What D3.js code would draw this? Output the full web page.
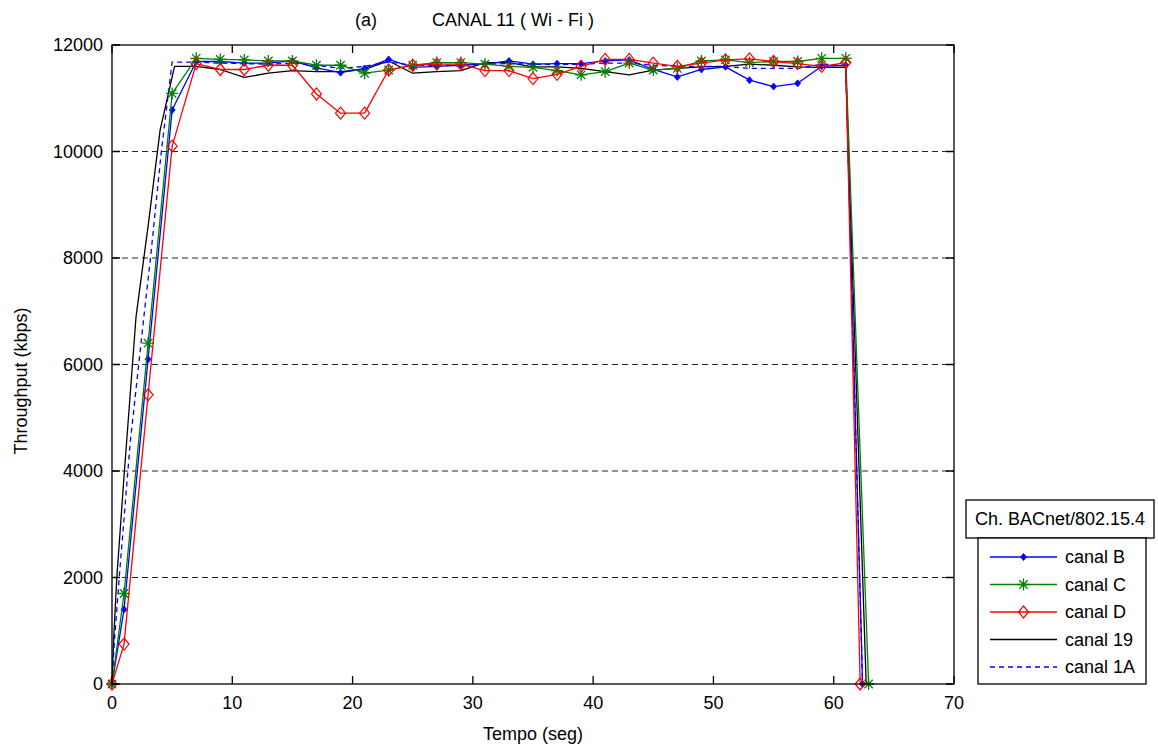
<!DOCTYPE html>
<html>
<head>
<meta charset="utf-8">
<script src="https://cdn.jsdelivr.net/npm/d3@7"></script>
<style>
  html, body { margin: 0; padding: 0; background: #fff; }
  svg { display: block; }
  text { font-family: "Liberation Sans", Arial, sans-serif; fill: #000; }
</style>
</head>
<body>
<svg id="chart" width="1158" height="747"></svg>
<script>
// Sample times (s) of the marked series
const tempo = [0, 1, 3, 5, 7, 9, 11, 13, 15, 17, 19, 21, 23, 25, 27, 29, 31,
               33, 35, 37, 39, 41, 43, 45, 47, 49, 51, 53, 55, 57, 59, 61];

// Throughput (kbps) per BACnet/802.15.4 channel
const canalB = [0, 1400, 6100, 10780, 11690, 11690, 11660, 11660, 11700, 11570, 11480,
                11560, 11730, 11580, 11600, 11620, 11640, 11700, 11640, 11650, 11650,
                11700, 11720, 11540, 11400, 11540, 11590, 11340, 11220, 11280, 11600, 11620];
const canalC = [0, 1700, 6400, 11090, 11750, 11730, 11720, 11700, 11700, 11620, 11620,
                11470, 11530, 11620, 11670, 11670, 11640, 11600, 11580, 11520, 11440,
                11500, 11660, 11530, 11560, 11700, 11720, 11670, 11690, 11690, 11750, 11750];
const canalD = [0, 750, 5430, 10100, 11650, 11540, 11540, 11620, 11620, 11080, 10720,
                10720, 11530, 11620, 11640, 11640, 11520, 11520, 11370, 11450, 11600,
                11730, 11730, 11660, 11600, 11660, 11720, 11740, 11690, 11650, 11600, 11670];

// Time at which each marked series returns to zero
const fimB = 62.4, fimC = 62.9, fimD = 62.2;

// Unmarked series (own time base)
const tempo19 = [0, 0.15, 0.4, 1, 2, 3, 4, 5.2, 7, 9, 11, 13, 15, 17, 19, 21, 23, 25, 27,
                 29, 31, 33, 35, 37, 39, 41, 43, 45, 47, 49, 51, 53, 55, 57, 59, 61, 62.7];
const canal19 = [0, 900, 2000, 3900, 6900, 8600, 10400, 11600, 11600, 11540, 11390, 11470,
                 11520, 11500, 11500, 11540, 11700, 11470, 11500, 11520, 11670, 11670, 11590,
                 11590, 11560, 11500, 11440, 11530, 11560, 11590, 11600, 11640, 11620, 11590,
                 11580, 11580, 0];
const tempo1A = [0, 0.2, 0.6, 1.5, 2.7, 3.2, 4.1, 5, 7, 9, 11, 13, 15, 17, 19, 21, 23, 25,
                 27, 29, 31, 33, 35, 37, 39, 41, 43, 45, 47, 49, 51, 53, 55, 57, 59, 61, 62.4];
const canal1A = [0, 800, 2000, 4500, 7000, 8000, 10000, 11680, 11680, 11660, 11650, 11640,
                 11660, 11620, 11560, 11600, 11680, 11620, 11620, 11620, 11640, 11650, 11640,
                 11630, 11640, 11660, 11660, 11620, 11600, 11600, 11600, 11560, 11560, 11560,
                 11640, 11620, 0];

// Axis ticks
const xTicks = [0, 10, 20, 30, 40, 50, 60, 70];
const yTicks = [0, 2000, 4000, 6000, 8000, 10000, 12000];
const gridValues = [2000, 4000, 6000, 8000, 10000];

const legendTitle = "Ch. BACnet/802.15.4";
const titleTag = "(a)";
const titleText = "CANAL 11 ( Wi - Fi )";

// ---------------------------------------------------------------
const svg = d3.select("#chart");
const plot = { left: 112, right: 954, top: 45, bottom: 684 };
const FONT = 18;

const x = d3.scaleLinear().domain([0, 70]).range([plot.left, plot.right]);
const y = d3.scaleLinear().domain([0, 12000]).range([plot.bottom, plot.top]);

svg.append("rect").attr("width", 1158).attr("height", 747).attr("fill", "#fff");

// Dashed horizontal grid
svg.append("g").selectAll("line").data(gridValues).join("line")
  .attr("x1", plot.left).attr("x2", plot.right)
  .attr("y1", d => y(d)).attr("y2", d => y(d))
  .attr("stroke", "#262626").attr("stroke-width", 1.2)
  .attr("stroke-dasharray", "6,4");

// Series builders
const withEnd = (vals, end) => tempo.map((t, i) => [t, vals[i]]).concat([[end, 0]]);
const pairs = (ts, vs) => ts.map((t, i) => [t, vs[i]]);

const series = [
  { name: "canal B", color: "#0000ff", data: withEnd(canalB, fimB), marker: "dot" },
  { name: "canal C", color: "#008000", data: withEnd(canalC, fimC), marker: "star" },
  { name: "canal D", color: "#ff0000", data: withEnd(canalD, fimD), marker: "diamond" },
  { name: "canal 19", color: "#000000", data: pairs(tempo19, canal19), marker: null },
  { name: "canal 1A", color: "#0000ff", data: pairs(tempo1A, canal1A), marker: null, dash: "5,4" }
];

const line = d3.line().x(d => x(d[0])).y(d => y(d[1]));

function drawMarker(g, kind, color, cx, cy) {
  if (kind === "dot") {
    g.append("path")
      .attr("d", `M${cx},${cy - 3.5}L${cx + 3},${cy}L${cx},${cy + 3.5}L${cx - 3},${cy}Z`)
      .attr("fill", color).attr("stroke", color).attr("stroke-width", 0.8);
  } else if (kind === "star") {
    const r = 6;
    const d = `M${cx - r},${cy}L${cx + r},${cy}M${cx},${cy - r}L${cx},${cy + r}` +
              `M${cx - r * 0.7},${cy - r * 0.7}L${cx + r * 0.7},${cy + r * 0.7}` +
              `M${cx - r * 0.7},${cy + r * 0.7}L${cx + r * 0.7},${cy - r * 0.7}`;
    g.append("path").attr("d", d).attr("fill", "none")
      .attr("stroke", color).attr("stroke-width", 1.3);
  } else if (kind === "diamond") {
    g.append("path")
      .attr("d", `M${cx},${cy - 6}L${cx + 5},${cy}L${cx},${cy + 6}L${cx - 5},${cy}Z`)
      .attr("fill", "none").attr("stroke", color).attr("stroke-width", 1.2);
  }
}

// Draw order: black, dashed, blue, green, red (red on top as in the plot)
const order = [3, 4, 0, 1, 2];
const gData = svg.append("g");
order.forEach(k => {
  const s = series[k];
  gData.append("path").datum(s.data)
    .attr("d", line).attr("fill", "none")
    .attr("stroke", s.color).attr("stroke-width", 1.3)
    .attr("stroke-dasharray", s.dash || null)
    .attr("stroke-linejoin", "round");
  if (s.marker) {
    const gm = gData.append("g");
    s.data.forEach(d => drawMarker(gm, s.marker, s.color, x(d[0]), y(d[1])));
  }
});

// Axes box with inward ticks on all four sides
const axes = svg.append("g");
axes.append("rect")
  .attr("x", plot.left).attr("y", plot.top)
  .attr("width", plot.right - plot.left).attr("height", plot.bottom - plot.top)
  .attr("fill", "none").attr("stroke", "#000").attr("stroke-width", 1.3);

const TL = 8;
axes.append("g").selectAll("path").data(xTicks).join("path")
  .attr("d", d => `M${x(d)},${plot.bottom}v${-TL}M${x(d)},${plot.top}v${TL}`)
  .attr("stroke", "#000").attr("stroke-width", 1.3);
axes.append("g").selectAll("path").data(yTicks).join("path")
  .attr("d", d => `M${plot.left},${y(d)}h${TL}M${plot.right},${y(d)}h${-TL}`)
  .attr("stroke", "#000").attr("stroke-width", 1.3);

// Tick labels
axes.append("g").selectAll("text").data(xTicks).join("text")
  .attr("x", d => x(d)).attr("y", 709)
  .attr("text-anchor", "middle").attr("font-size", FONT)
  .text(d => d);
axes.append("g").selectAll("text").data(yTicks).join("text")
  .attr("x", 103).attr("y", d => y(d)).attr("dy", "0.36em")
  .attr("text-anchor", "end").attr("font-size", FONT)
  .text(d => d);

// Axis titles
svg.append("text").attr("x", 533).attr("y", 740)
  .attr("text-anchor", "middle").attr("font-size", FONT).text("Tempo (seg)");
svg.append("text")
  .attr("transform", "translate(27,381) rotate(-90)")
  .attr("text-anchor", "middle").attr("font-size", FONT).text("Throughput (kbps)");

// Title
svg.append("text").attr("x", 355).attr("y", 26).attr("font-size", FONT).text(titleTag);
svg.append("text").attr("x", 432).attr("y", 26).attr("font-size", FONT).text(titleText);

// Legend
const lg = svg.append("g");
lg.append("rect").attr("x", 966).attr("y", 500).attr("width", 188).attr("height", 38)
  .attr("fill", "#fff").attr("stroke", "#000").attr("stroke-width", 1.3);
lg.append("text").attr("x", 1060).attr("y", 519).attr("dy", "0.36em")
  .attr("text-anchor", "middle").attr("font-size", FONT).text(legendTitle);
lg.append("rect").attr("x", 978).attr("y", 538).attr("width", 168).attr("height", 146)
  .attr("fill", "#fff").attr("stroke", "#000").attr("stroke-width", 1.3);

const rowY = d3.scalePoint().domain(series.map(s => s.name)).range([557, 667]);
series.forEach(s => {
  const cy = rowY(s.name);
  lg.append("line").attr("x1", 990).attr("x2", 1057).attr("y1", cy).attr("y2", cy)
    .attr("stroke", s.color).attr("stroke-width", 1.3)
    .attr("stroke-dasharray", s.dash || null);
  if (s.marker) drawMarker(lg, s.marker, s.color, 1023.5, cy);
  lg.append("text").attr("x", 1065).attr("y", cy).attr("dy", "0.36em")
    .attr("font-size", FONT).text(s.name);
});
</script>
</body>
</html>
